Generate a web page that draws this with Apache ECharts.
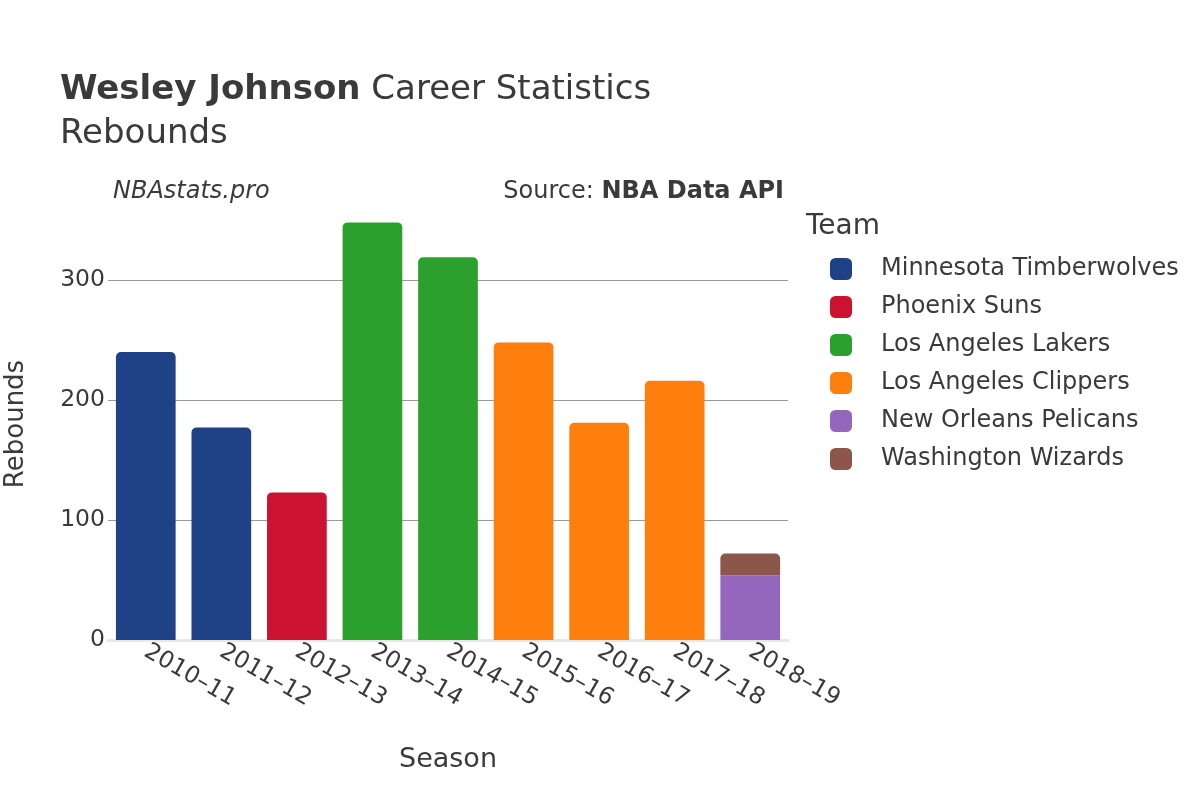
<!DOCTYPE html>
<html>
<head>
<meta charset="utf-8">
<script src="https://cdn.jsdelivr.net/npm/echarts@6/dist/echarts.min.js"></script>
<style>html,body{margin:0;padding:0;background:#fff}#c{width:1200px;height:800px}</style>
</head>
<body>
<div id="c"></div>
<script>
const seasons = ['2010–11','2011–12','2012–13','2013–14','2014–15','2015–16','2016–17','2017–18','2018–19'];
const teams = ['Minnesota Timberwolves','Phoenix Suns','Los Angeles Lakers','Los Angeles Clippers','New Orleans Pelicans','Washington Wizards'];
const teamColors = ['#1f4287','#cb1230','#2ca02c','#ff7f0e','#9467bd','#8c564b'];
const minnesota = [240, 177, null, null, null, null, null, null, null];
const phoenix   = [null, null, 123, null, null, null, null, null, null];
const lakers    = [null, null, null, 348, 319, null, null, null, null];
const clippers  = [null, null, null, null, null, 248, 181, 216, null];
const pelicans  = [null, null, null, null, null, null, null, null, 54];
const wizards   = [null, null, null, null, null, null, null, null, 18];
const seriesValues = [minnesota, phoenix, lakers, clippers, pelicans, wizards];
const yTicks = [0, 100, 200, 300];

const FONT = 'DejaVu Sans';
const TXT = '#3a3a3a';

const chart = echarts.init(document.getElementById('c'), null, {renderer: 'canvas'});
const series = teams.map((t, i) => ({
  name: t,
  type: 'bar',
  stack: 'total',
  barWidth: '79%',
  data: seriesValues[i],
  itemStyle: {
    color: teamColors[i],
    borderRadius: i === 4 ? [0,0,0,0] : [5,5,0,0]
  }
}));

chart.setOption({
  backgroundColor: '#ffffff',
  animation: false,
  textStyle: {fontFamily: FONT},
  title: [
    {
      text: '{b|Wesley Johnson} Career Statistics\nRebounds',
      left: 55, top: 63,
      textStyle: {
        fontFamily: FONT, fontSize: 34, color: TXT, fontWeight: 'normal', lineHeight: 44,
        rich: {b: {fontFamily: FONT, fontSize: 34, fontWeight: 'bold', color: TXT, lineHeight: 44}}
      }
    },
    {
      text: 'NBAstats.pro', left: 108, top: 175,
      textStyle: {fontFamily: FONT, fontSize: 24, fontStyle: 'italic', fontWeight: 'normal', color: TXT}
    },
    {
      text: 'Source: {b|NBA Data API}', right: 411, top: 175,
      textStyle: {fontFamily: FONT, fontSize: 24, fontWeight: 'normal', color: TXT,
        rich: {b: {fontFamily: FONT, fontSize: 24, fontWeight: 'bold', color: TXT}}}
    },
    {
      text: 'Team', left: 801, top: 208,
      textStyle: {fontFamily: FONT, fontSize: 28, fontWeight: 'normal', color: TXT}
    }
  ],
  legend: {
    orient: 'vertical',
    left: 825, top: 252,
    icon: 'roundRect',
    itemWidth: 22, itemHeight: 22, itemGap: 14,
    data: teams,
    textStyle: {fontFamily: FONT, fontSize: 24, color: TXT, padding: [0,0,0,24]},
    selectedMode: false
  },
  grid: {left: 108, right: 412, top: 208, bottom: 160, outerBoundsMode: 'none'},
  xAxis: {
    type: 'category',
    data: seasons,
    name: 'Season',
    nameLocation: 'middle',
    nameGap: 106,
    nameTextStyle: {fontFamily: FONT, fontSize: 27, color: TXT},
    axisLine: {show: true, lineStyle: {color: '#e8e8e8', width: 3}},
    axisTick: {show: false},
    axisLabel: {rotate: -30, fontFamily: FONT, fontSize: 23.5, color: TXT, margin: 10, interval: 0}
  },
  yAxis: {
    type: 'value',
    min: 0, max: 360, interval: 100,
    name: 'Rebounds',
    nameLocation: 'middle',
    nameGap: 79,
    nameTextStyle: {fontFamily: FONT, fontSize: 26, color: TXT},
    axisLine: {show: false},
    axisTick: {show: false},
    axisLabel: {fontFamily: FONT, fontSize: 23.5, color: TXT, margin: 3, showMaxLabel: false,
      formatter: v => (yTicks.indexOf(v) >= 0 ? String(v) : '')},
    splitLine: {show: true, showMinLine: false, showMaxLine: false, lineStyle: {color: '#9a9a9a', width: 1}}
  },
  series: series
});
</script>
</body>
</html>
